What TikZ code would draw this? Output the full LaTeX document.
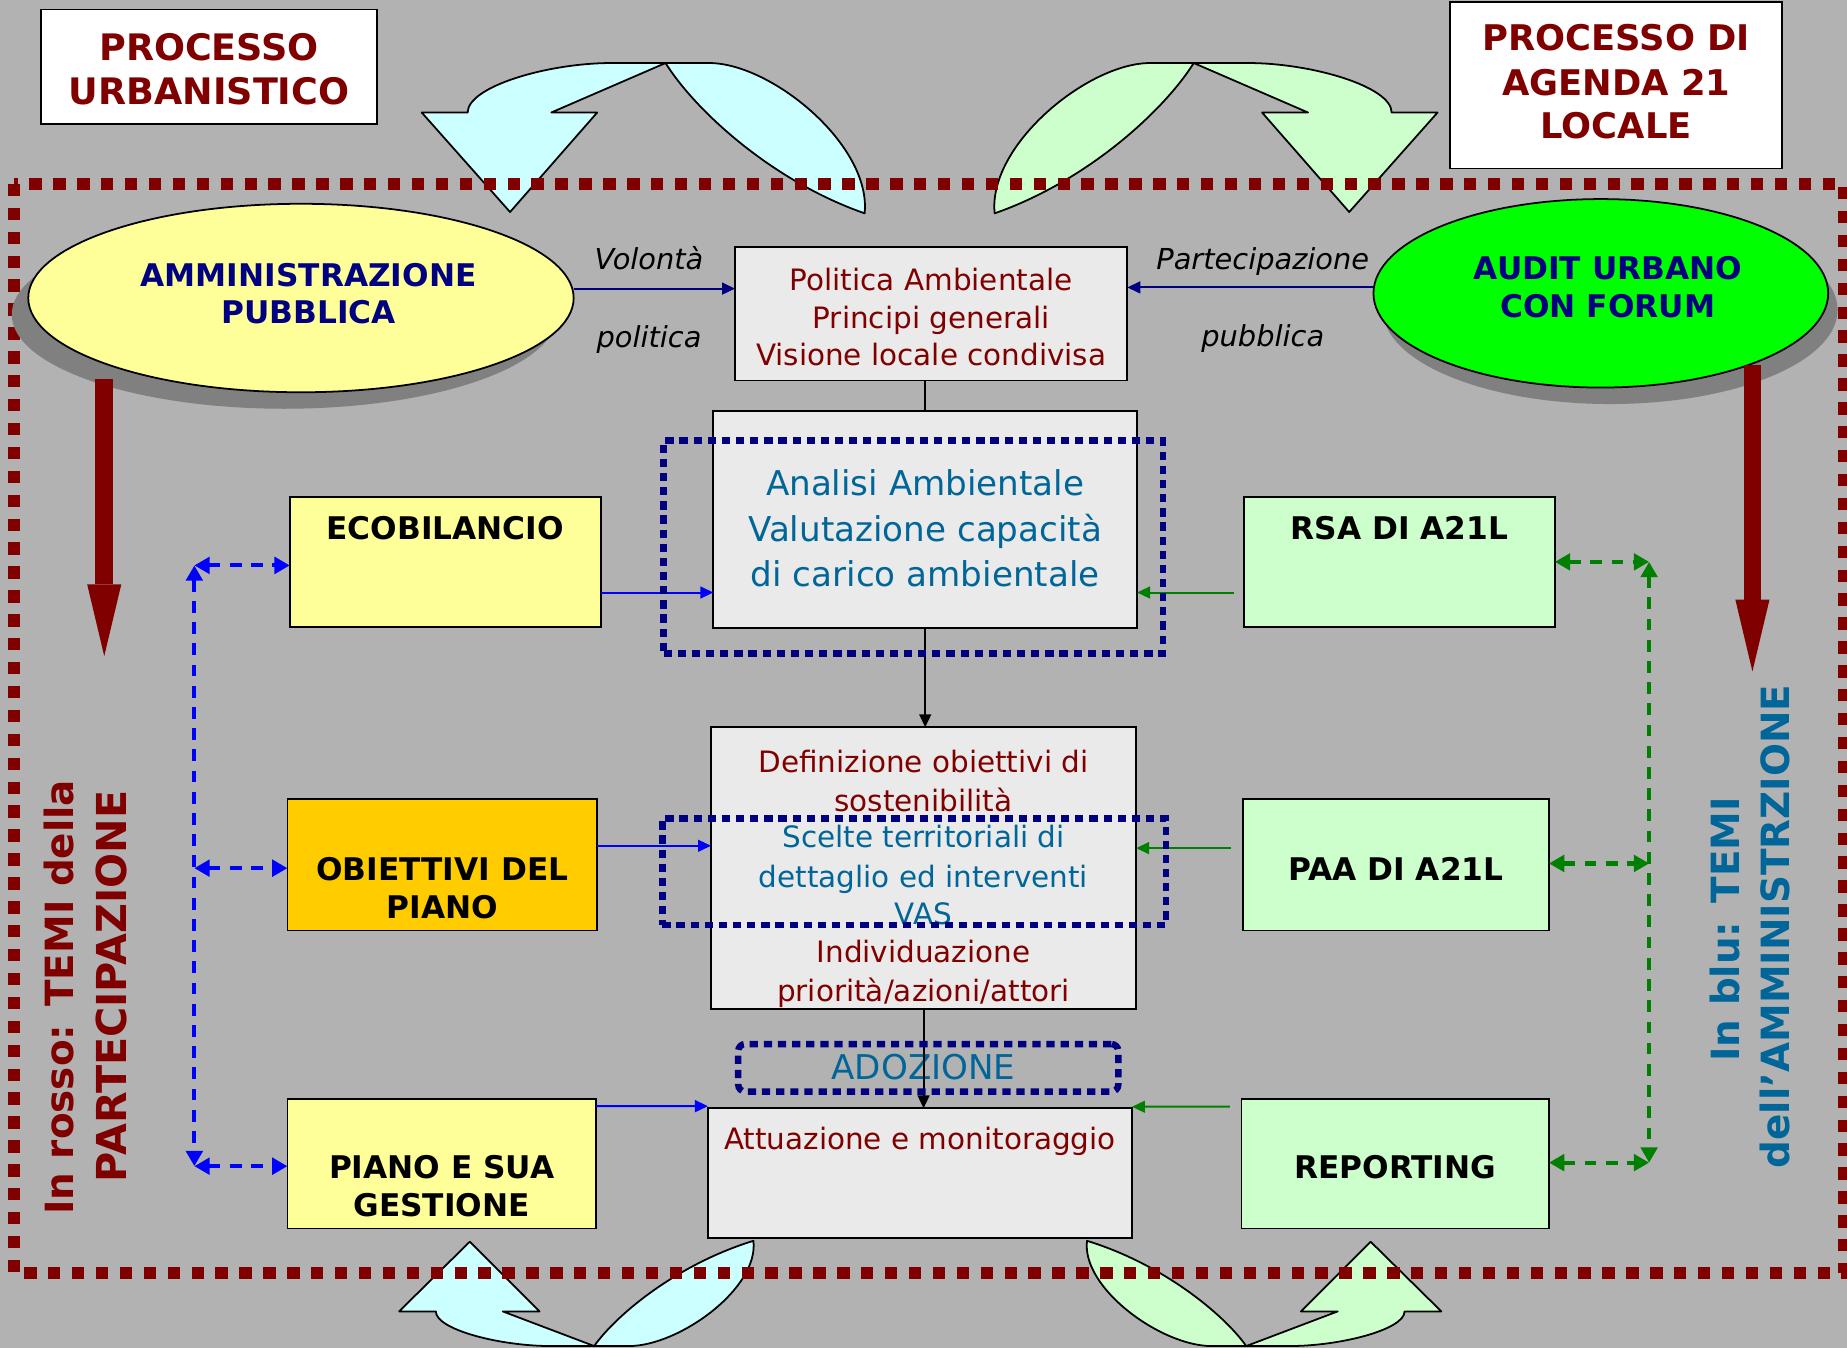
\documentclass[tikz,border=0pt]{standalone}
\usepackage{fontspec}
\setmainfont{DejaVu Sans}
\usetikzlibrary{arrows.meta,shapes.geometric}
\definecolor{bggrey}{HTML}{B2B2B2}
\definecolor{maroonc}{HTML}{800000}
\definecolor{navyc}{HTML}{000080}
\definecolor{tealc}{HTML}{006699}
\definecolor{boxgrey}{HTML}{EAEAEA}
\definecolor{yel}{HTML}{FFFF99}
\definecolor{orng}{HTML}{FFCC00}
\definecolor{lgreen}{HTML}{CCFFCC}
\definecolor{lcyan}{HTML}{CCFFFF}
\definecolor{brightgreen}{HTML}{00FF00}
\definecolor{shadowgrey}{HTML}{808080}
\definecolor{arrowgreen}{HTML}{008000}
\definecolor{arrowblue}{HTML}{0000FF}
\newcommand{\twinarrowshape}[2]{%
  \begin{scope}[#2]
    \filldraw[fill=#1, draw=black, line width=1.5pt, line join=round]
      (0,0) -- (-46,0) .. controls (-100,0) and (-168,20) .. (-168,42)
      -- (-207,42) -- (-132,126.5) -- (-58,42) -- (-97,42) -- cycle;
    \filldraw[fill=#1, draw=black, line width=1.5pt, line join=round]
      (0,0) .. controls (25,40) and (90,100) .. (169,127.6)
      .. controls (175,70) and (90,0) .. (37,0) -- cycle;
  \end{scope}}
\begin{document}
\begin{tikzpicture}[x=1pt,y=-1pt,
  every node/.style={inner sep=0pt, outer sep=0pt},
  titlebox/.style={draw=black, line width=1.5pt, fill=white, rectangle},
  procbox/.style={draw=black, line width=1.5pt, fill=boxgrey, rectangle},
  sidebox/.style={draw=black, line width=1.5pt, rectangle},
  ellnode/.style={ellipse, draw=black, line width=1.5pt},
  shadownode/.style={ellipse, fill=shadowgrey},
  navydot/.style={draw=navyc, line width=5.5pt, dash pattern=on 7pt off 5pt, rectangle},
  titlefont/.style={font=\fontsize{31}{36}\selectfont\bfseries, text=maroonc, anchor=base},
  titlefontb/.style={font=\fontsize{30}{36}\selectfont\bfseries, text=maroonc, anchor=base},
  ellfont/.style={font=\fontsize{26.5}{30}\selectfont\bfseries, text=navyc, anchor=base},
  boxfont/.style={font=\fontsize{26.5}{30}\selectfont\bfseries, text=black, anchor=base},
  polfont/.style={font=\fontsize{25}{30}\selectfont, anchor=base},
  anafont/.style={font=\fontsize{29}{34}\selectfont, text=tealc, anchor=base},
  labfont/.style={font=\fontsize{24.5}{28}\selectfont\itshape, text=black, anchor=base},
  rotfont/.style={font=\fontsize{33}{40}\selectfont\bfseries, anchor=base, rotate=90},
  thinarrow/.style={line width=1.7pt, -{Triangle[length=11pt,width=10pt]}},
  dashboth/.style={line width=3.5pt, dash pattern=on 10pt off 8pt,
     {Triangle[length=13pt,width=14pt]}-{Triangle[length=13pt,width=14pt]}},
  bigarrow/.style={draw=maroonc, line width=15pt, -{Triangle[length=61pt,width=29pt,line width=0pt]}}
]
\useasboundingbox (0,0) rectangle (1568,1144);
\fill[bggrey] (0,0) rectangle (1568,1144);

% curved twin arrows
\twinarrowshape{lcyan}{shift={(565,53.5)}}
\twinarrowshape{lgreen}{shift={(1013.4,53.5)}, xscale=-1}
\twinarrowshape{lcyan}{shift={(504.4,1142.7)}, xscale=0.8, yscale=-0.7}
\twinarrowshape{lgreen}{shift={(1058,1142.7)}, xscale=-0.8, yscale=-0.7}

% maroon dotted frame
\draw[maroonc, line width=10pt, dash pattern=on 10.5pt off 9.8pt] (11.7,156) rectangle (1565,1081);

% titles
\node[titlebox, minimum width=285pt, minimum height=97pt] (puTitle) at (177.5,56.5) {};
\node[titlefont] (puT1) at (177.5,51.3) {PROCESSO};
\node[titlefont] (puT2) at (177.5,88.3) {URBANISTICO};
\node[titlebox, minimum width=282pt, minimum height=141pt] (a21Title) at (1372,72.5) {};
\node[titlefontb] (a21T1) at (1372,42.9) {PROCESSO DI};
\node[titlefontb] (a21T2) at (1372,80.9) {AGENDA 21};
\node[titlefontb] (a21T3) at (1372,117.9) {LOCALE};

% ellipses
\node[shadownode, minimum width=463pt, minimum height=160pt] (apShadow) at (241.5,267) {};
\node[ellnode, fill=yel, minimum width=463pt, minimum height=160pt] (ap) at (255.5,253) {};
\node[ellfont] (apT1) at (262,243.2) {AMMINISTRAZIONE};
\node[ellfont] (apT2) at (262,274.3) {PUBBLICA};
\node[shadownode, minimum width=386pt, minimum height=160pt] (auShadow) at (1367,263) {};
\node[ellnode, fill=brightgreen, minimum width=386pt, minimum height=160pt] (au) at (1359,249) {};
\node[ellfont] (auT1) at (1365,237.2) {AUDIT URBANO};
\node[ellfont] (auT2) at (1365,269.7) {CON FORUM};

% thick maroon arrows
\coordinate (la1) at (88.5,322);
\coordinate (la2) at (88.5,557);
\coordinate (ra1) at (1487.7,310);
\coordinate (ra2) at (1487.7,570);
\draw[bigarrow] (la1) -- (la2);
\draw[bigarrow] (ra1) -- (ra2);

% central process boxes
\node[procbox, minimum width=333pt, minimum height=113pt] (pol) at (790.5,266.5) {};
\node[polfont, text=maroonc] (polT1) at (790.5,246.5) {Politica Ambientale};
\node[polfont, text=maroonc] (polT2) at (790.5,278.5) {Principi generali};
\node[polfont, text=maroonc] (polT3) at (790.5,310.5) {Visione locale condivisa};

\node[procbox, minimum width=359.7pt, minimum height=184.2pt] (ana) at (785.45,440.7) {};
\node[anafont] (anaT1) at (785.45,421) {Analisi Ambientale};
\node[anafont] (anaT2) at (785.45,459.3) {Valutazione capacità};
\node[anafont] (anaT3) at (785.45,497.5) {di carico ambientale};

\node[procbox, minimum width=360.9pt, minimum height=239.2pt] (defi) at (784.05,737) {};
\node[polfont, text=maroonc] (defT1) at (784,656.1) {Definizione obiettivi di};
\node[polfont, text=maroonc] (defT2) at (784,688.5) {sostenibilità};
\node[polfont, text=tealc] (defT3) at (784,719.7) {Scelte territoriali di};
\node[polfont, text=tealc] (defT4) at (784,753.7) {dettaglio ed interventi};
\node[polfont, text=tealc] (defT5) at (784,784.8) {VAS};
\node[polfont, text=maroonc] (defT6) at (784,817.4) {Individuazione};
\node[polfont, text=maroonc] (defT7) at (784,849.9) {priorità/azioni/attori};

\node[procbox, minimum width=360pt, minimum height=110.3pt] (att) at (781,996.05) {};
\node[polfont, text=maroonc] (attT) at (781,975.5) {Attuazione e monitoraggio};

\node[font=\fontsize{29}{34}\selectfont, text=tealc, anchor=base] (adoT) at (784,916.4) {ADOZIONE};

% side boxes
\node[sidebox, fill=yel, minimum width=264pt, minimum height=110pt] (eco) at (378,477) {};
\node[boxfont] (ecoT) at (378,457.7) {ECOBILANCIO};
\node[sidebox, fill=orng, minimum width=263pt, minimum height=112pt] (obi) at (375.5,734) {};
\node[boxfont] (obiT1) at (375.5,747.7) {OBIETTIVI DEL};
\node[boxfont] (obiT2) at (375.5,779.7) {PIANO};
\node[sidebox, fill=yel, minimum width=262pt, minimum height=110pt] (pia) at (375,988) {};
\node[boxfont] (piaT1) at (375,1000.7) {PIANO E SUA};
\node[boxfont] (piaT2) at (375,1032.7) {GESTIONE};
\node[sidebox, fill=lgreen, minimum width=264pt, minimum height=110pt] (rsa) at (1188,477) {};
\node[boxfont] (rsaT) at (1188,457.7) {RSA DI A21L};
\node[sidebox, fill=lgreen, minimum width=260pt, minimum height=112pt] (paa) at (1185,734) {};
\node[boxfont] (paaT) at (1185,747.7) {PAA DI A21L};
\node[sidebox, fill=lgreen, minimum width=261pt, minimum height=110pt] (rep) at (1184.5,988) {};
\node[boxfont] (repT) at (1184.5,1000.7) {REPORTING};

% navy arrows with labels
\draw[navyc, thinarrow] ([yshift=8pt]ap.east) -- ([yshift=21.5pt]pol.west);
\draw[navyc, thinarrow] ([yshift=5pt]au.west) -- ([yshift=22.5pt]pol.east);
\node[labfont] (lab1) at (551,229) {Volontà};
\node[labfont] (lab2) at (551,295) {politica};
\node[labfont] (lab3) at (1072,229) {Partecipazione};
\node[labfont] (lab4) at (1072,294) {pubblica};

% black flow
\draw[black, line width=1.7pt] (ana.north |- pol.south) -- (ana.north);
\draw[black, thinarrow] (ana.south) -- (ana.south |- defi.north);
\draw[black, thinarrow] (defi.south) -- (defi.south |- att.north);

% blue and green thin arrows
\draw[arrowblue, thinarrow] ([yshift=-26pt]eco.east) -- ([yshift=-62.3pt]ana.west);
\draw[arrowblue, thinarrow] ([yshift=16pt]obi.east) -- ([yshift=19pt]defi.west);
\draw[arrowblue, thinarrow] ([yshift=49pt]pia.east) -- ([yshift=57pt]att.west);
\draw[arrowgreen, thinarrow, shorten <=8pt] ([yshift=-26pt]rsa.west) -- ([yshift=-62.3pt]ana.east);
\draw[arrowgreen, thinarrow, shorten <=10pt] ([yshift=14pt]paa.west) -- ([yshift=17pt]defi.east);
\draw[arrowgreen, thinarrow, shorten <=10pt] ([yshift=48.5pt]rep.west) -- ([yshift=56.5pt]att.east);

% dashed double arrows
\coordinate (lc1) at (165,480);
\coordinate (lc2) at (165,737);
\coordinate (lc3) at (165,990);
\draw[arrowblue, dashboth] (lc1) -- (lc3);
\draw[arrowblue, dashboth] (lc1) -- (lc1 -| eco.west);
\draw[arrowblue, dashboth] (lc2) -- (lc2 -| obi.west);
\draw[arrowblue, dashboth] (lc3) -- (lc3 -| pia.west);
\coordinate (rc1) at (1400,477);
\coordinate (rc2) at (1400,733);
\coordinate (rc3) at (1400,987);
\draw[arrowgreen, dashboth] (rc1) -- (rc3);
\draw[arrowgreen, dashboth] (rc1 -| rsa.east) -- (rc1);
\draw[arrowgreen, dashboth] (rc2 -| paa.east) -- (rc2);
\draw[arrowgreen, dashboth] (rc3 -| rep.east) -- (rc3);

% navy dotted groups
\node[navydot, minimum width=423.9pt, minimum height=180.6pt] (grpAna) at (775.35,464.3) {};
\node[navydot, minimum width=427.5pt, minimum height=90.5pt] (grpDef) at (776.05,739.95) {};
\node[navydot, rounded corners=6pt, minimum width=322.7pt, minimum height=40.4pt] (grpAdo) at (788.05,906.5) {};

% rotated side texts
\node[rotfont, text=maroonc] (rossoA) at (62.2,846.6) {In rosso: TEMI della};
\node[rotfont, text=maroonc, font=\fontsize{35}{40}\selectfont\bfseries] (rossoB) at (107.5,837.5) {PARTECIPAZIONE};
\node[rotfont, text=tealc] (bluA) at (1477,789) {In blu: TEMI};
\node[rotfont, text=tealc] (bluB) at (1519.5,786.5) {dell'AMMINISTRZIONE};
\end{tikzpicture}
\end{document}
